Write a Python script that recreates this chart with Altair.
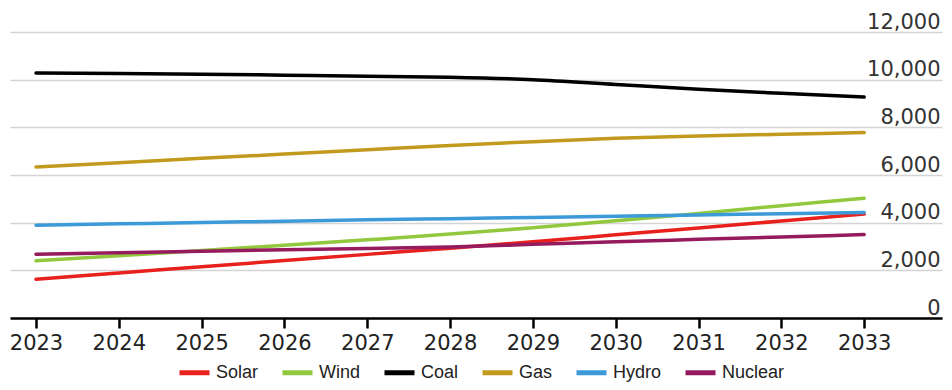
import altair as alt
import pandas as pd

years = [2023, 2024, 2025, 2026, 2027, 2028, 2029, 2030, 2031, 2032, 2033]
solar = [1630, 1890, 2150, 2410, 2670, 2930, 3200, 3490, 3780, 4070, 4360]
wind = [2400, 2610, 2830, 3050, 3280, 3520, 3790, 4080, 4390, 4710, 5030]
coal = [10280, 10260, 10230, 10190, 10150, 10100, 10000, 9800, 9600, 9430, 9270]
gas = [6340, 6520, 6700, 6880, 7060, 7240, 7400, 7540, 7640, 7710, 7780]
hydro = [3890, 3950, 4010, 4060, 4120, 4170, 4220, 4270, 4320, 4380, 4430]
nuclear = [2680, 2740, 2800, 2860, 2920, 2980, 3090, 3200, 3300, 3400, 3500]

series_names = ["Solar", "Wind", "Coal", "Gas", "Hydro", "Nuclear"]
series_colors = ["#e8211d", "#92c83e", "#000000", "#c29a1e", "#3d9ad8", "#951b5e"]
y_ticks = [0, 2000, 4000, 6000, 8000, 10000, 12000]

rows = []
for name, vals in zip(series_names, [solar, wind, coal, gas, hydro, nuclear]):
    for yr, v in zip(years, vals):
        rows.append({"year": yr, "value": v, "source": name})
df = pd.DataFrame(rows)

chart = alt.Chart(df).mark_line(strokeWidth=3.5, strokeCap="round", interpolate="monotone").encode(
    x=alt.X("year:Q",
            scale=alt.Scale(domain=[2022.686, 2033.94], nice=False, zero=False),
            axis=alt.Axis(values=years, format="d", title=None, grid=False,
                          domainColor="#000000", domainWidth=2.5,
                          tickColor="#000000", tickWidth=2.5, tickSize=10,
                          labelFont="DejaVu Sans", labelFontSize=21, labelColor="#222222",
                          labelPadding=4, labelFlush=False)),
    y=alt.Y("value:Q",
            scale=alt.Scale(domain=[0, 13009], nice=False),
            axis=alt.Axis(orient="right", values=y_ticks, format=",.0f", title=None,
                          grid=True, gridColor="#d4d4d4", gridWidth=1.5,
                          domain=False, ticks=False, tickSize=0,
                          labelAlign="right", labelBaseline="bottom", labelPadding=-2,
                          labelFont="DejaVu Sans", labelFontSize=21, labelColor="#333333")),
    color=alt.Color("source:N",
                    scale=alt.Scale(domain=series_names, range=series_colors),
                    sort=series_names,
                    legend=alt.Legend(title=None, orient="none", direction="horizontal",
                                      legendX=167, legendY=347,
                                      symbolType="stroke", symbolStrokeWidth=5, symbolSize=900,
                                      labelFont="Liberation Sans", labelFontSize=18,
                                      labelColor="#222222", labelOffset=4, columnPadding=13)),
    order=alt.Order("source:N")
).properties(
    width=932, height=310,
    padding={"left": 2, "top": 0, "right": 2, "bottom": 64},
    autosize=alt.AutoSizeParams(type="none")
).configure_view(stroke=None)

chart.save("out.html", embed_options={"renderer": "svg", "actions": False})
